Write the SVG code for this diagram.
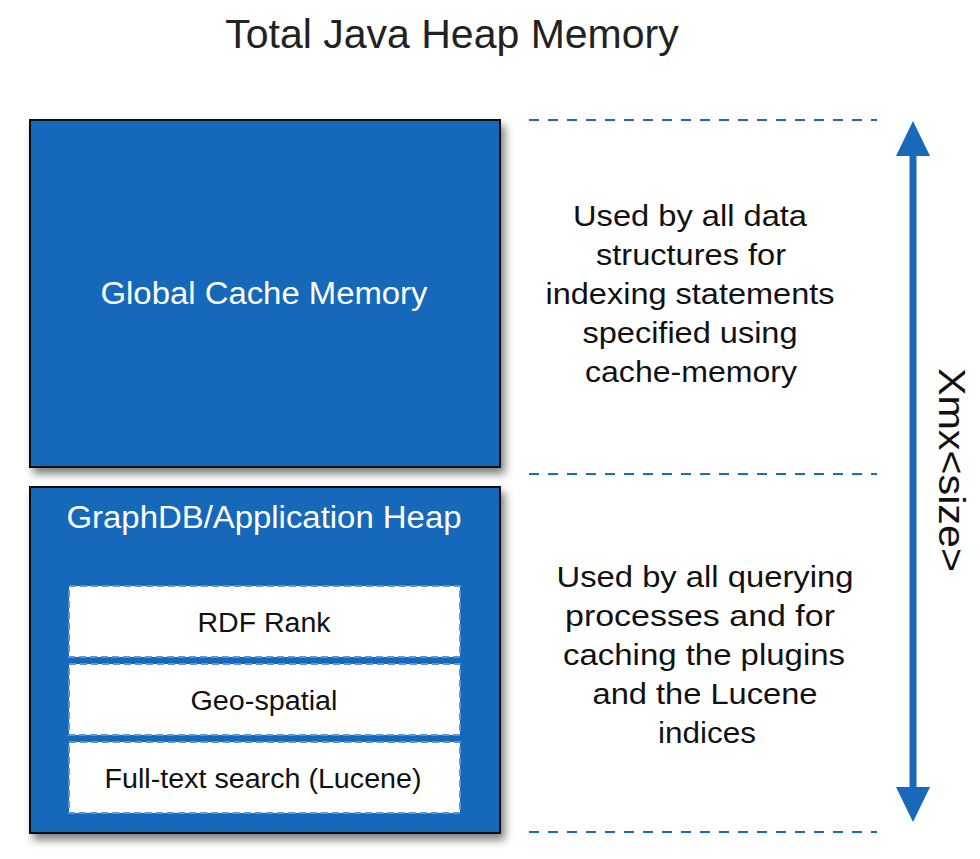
<svg xmlns="http://www.w3.org/2000/svg" width="980" height="859" viewBox="0 0 980 859">
<style>
.box{fill:#1869BA;stroke:#111;stroke-width:2}
.sub{fill:#fff;stroke:#5d96d6;stroke-width:2;stroke-dasharray:7 4}
.wt{font-family:"Liberation Sans",Arial,sans-serif;fill:#fff;text-anchor:middle}
.bt{font-family:"Liberation Sans",Arial,sans-serif;fill:#111;text-anchor:middle;font-size:27px}
.rt{font-family:"Liberation Sans",Arial,sans-serif;fill:#111;text-anchor:middle;font-size:29px}
.dash{stroke:#1a6bc8;stroke-width:2;stroke-dasharray:10 9;fill:none}
</style>
<defs>
<filter id="sh" x="-10%" y="-10%" width="125%" height="125%">
<feDropShadow dx="4" dy="6" stdDeviation="4" flood-color="#000" flood-opacity="0.5"/>
</filter>
</defs>
<text x="452" y="48" font-family="Liberation Sans,Arial,sans-serif" font-size="41" fill="#222" text-anchor="middle">Total Java Heap Memory</text>
<g id="global-cache">
<rect class="box" x="30" y="120" width="470" height="347" filter="url(#sh)"/>
<text class="wt" x="264" y="304" font-size="31" textLength="327" lengthAdjust="spacingAndGlyphs">Global Cache Memory</text>
</g>
<g id="app-heap">
<rect class="box" x="30" y="487" width="470" height="346" filter="url(#sh)"/>
<text class="wt" x="264" y="528" font-size="31" textLength="395" lengthAdjust="spacingAndGlyphs">GraphDB/Application Heap</text>
</g>
<g id="rdf-rank">
<rect class="sub" x="69" y="586" width="391" height="71"/>
<text class="bt" x="264" y="632" textLength="133" lengthAdjust="spacingAndGlyphs">RDF Rank</text>
</g>
<g id="geo-spatial">
<rect class="sub" x="69" y="664" width="391" height="71"/>
<text class="bt" x="264" y="710" textLength="147" lengthAdjust="spacingAndGlyphs">Geo-spatial</text>
</g>
<g id="full-text">
<rect class="sub" x="69" y="742" width="391" height="71"/>
<text class="bt" x="263" y="788" textLength="317" lengthAdjust="spacingAndGlyphs">Full-text search (Lucene)</text>
</g>
<g id="desc-cache">
<text class="rt" x="690" y="226" textLength="234" lengthAdjust="spacingAndGlyphs">Used by all data</text>
<text class="rt" x="691" y="265" textLength="190" lengthAdjust="spacingAndGlyphs">structures for</text>
<text class="rt" x="690" y="304" textLength="289" lengthAdjust="spacingAndGlyphs">indexing statements</text>
<text class="rt" x="690" y="343" textLength="215" lengthAdjust="spacingAndGlyphs">specified using</text>
<text class="rt" x="691" y="382" textLength="212" lengthAdjust="spacingAndGlyphs">cache-memory</text>
</g>
<g id="desc-heap">
<text class="rt" x="705" y="587" textLength="297" lengthAdjust="spacingAndGlyphs">Used by all querying</text>
<text class="rt" x="700" y="626" textLength="270" lengthAdjust="spacingAndGlyphs">processes and for</text>
<text class="rt" x="704" y="665" textLength="282" lengthAdjust="spacingAndGlyphs">caching the plugins</text>
<text class="rt" x="705" y="704" textLength="225" lengthAdjust="spacingAndGlyphs">and the Lucene</text>
<text class="rt" x="707" y="743" textLength="98" lengthAdjust="spacingAndGlyphs">indices</text>
</g>
<g id="connectors">
<line class="dash" x1="529" y1="120" x2="877" y2="120"/>
<line class="dash" x1="529" y1="474" x2="877" y2="474"/>
<line class="dash" x1="529" y1="832" x2="877" y2="832"/>
<line x1="913" y1="150" x2="913" y2="792" stroke="#1869BA" stroke-width="7"/>
<polygon points="913,121 896,156 930,156" fill="#1869BA"/>
<polygon points="913,822 896,787 930,787" fill="#1869BA"/>
</g>
<g id="size-label">
<text transform="translate(939,470) rotate(90)" font-family="Liberation Sans,Arial,sans-serif" font-size="36" fill="#111" text-anchor="middle" textLength="204" lengthAdjust="spacingAndGlyphs">Xmx&lt;size&gt;</text>
</g>
</svg>
